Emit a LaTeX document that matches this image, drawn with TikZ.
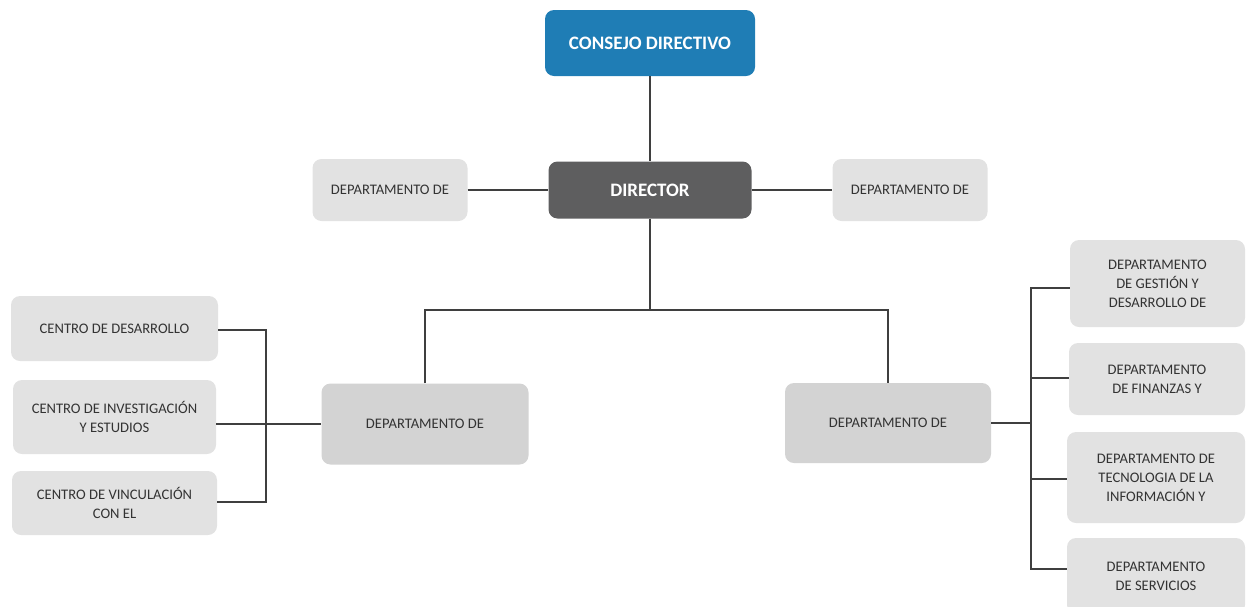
\documentclass[tikz,border=0pt]{standalone}
\usepackage{fontspec}
\setmainfont{Carlito}
\definecolor{cblue}{HTML}{1F7DB5}
\definecolor{cdark}{HTML}{5E5E5F}
\definecolor{clight}{HTML}{E2E2E2}
\definecolor{cmid}{HTML}{D3D3D3}
\definecolor{cline}{HTML}{3F3F3F}
\begin{document}
\begin{tikzpicture}[x=1pt,y=-1pt,
  box/.style={rounded corners=9pt, inner sep=0pt, align=center, font=\fontsize{14.6}{19}\selectfont, text=black!80},
  lbox/.style={box, fill=clight},
  mbox/.style={box, fill=cmid},
  conn/.style={draw=cline, line width=1.6pt}]
\useasboundingbox (0,0) rectangle (1246,606);
\node[box, fill=cblue, text=white, font=\bfseries\fontsize{19}{22}\selectfont, minimum width=210pt, minimum height=66pt] (cd) at (650,43) {CONSEJO DIRECTIVO};
\node[box, fill=cdark, text=white, font=\bfseries\fontsize{19}{22}\selectfont, minimum width=203pt, minimum height=57pt] (dir) at (650,190) {DIRECTOR};
\node[lbox, minimum width=155pt, minimum height=62pt] (dl) at (390,190) {DEPARTAMENTO DE};
\node[lbox, minimum width=155pt, minimum height=62pt] (dr) at (910,190) {DEPARTAMENTO DE};
\node[mbox, minimum width=207pt, minimum height=81pt] (ml) at (425,424) {DEPARTAMENTO DE};
\node[mbox, minimum width=206pt, minimum height=80pt] (mr) at (888,423) {DEPARTAMENTO DE};
\node[lbox, minimum width=207pt, minimum height=65pt] (l1) at (114.5,328.5) {CENTRO DE DESARROLLO};
\node[lbox, minimum width=203pt, minimum height=74pt] (l2) at (114.5,417) {CENTRO DE INVESTIGACIÓN\\Y ESTUDIOS};
\node[lbox, minimum width=205pt, minimum height=64pt] (l3) at (114.5,503) {CENTRO DE VINCULACIÓN\\CON EL};
\node[lbox, minimum width=175pt, minimum height=87pt] (r1) at (1157.5,283.5) {DEPARTAMENTO\\DE GESTIÓN Y\\DESARROLLO DE};
\node[lbox, minimum width=176pt, minimum height=72pt] (r2) at (1157,379) {DEPARTAMENTO\\DE FINANZAS Y};
\node[lbox, minimum width=178pt, minimum height=91pt] (r3) at (1156,477.5) {DEPARTAMENTO DE\\TECNOLOGIA DE LA\\INFORMACIÓN Y};
\node[lbox, minimum width=178pt, minimum height=76pt] (r4) at (1156,576) {DEPARTAMENTO\\DE SERVICIOS};
% connectors
\draw[conn] (cd.south) -- (dir.north);
\draw[conn] (dl.east) -- (dir.west);
\draw[conn] (dir.east) -- (dr.west);
\coordinate (hub) at (650,310);
\draw[conn] (dir.south) -- (hub);
\draw[conn] (ml.north) |- (hub) -| (mr.north);
\coordinate (lbus) at (266,424);
\draw[conn] (l1.east |- 0,330) -| (lbus);
\draw[conn] (l3.east |- 0,502) -| (lbus);
\draw[conn] (l2.east |- ml.west) -- (ml.west);
\coordinate (rbus) at (1031,423);
\draw[conn] (mr.east) -- (rbus);
\draw[conn] (r1.west |- 0,288) -| (rbus);
\draw[conn] (r4.west |- 0,569) -| (rbus);
\draw[conn] (r2.west |- 0,378) -- (1031,378);
\draw[conn] (r3.west |- 0,479) -- (1031,479);
\end{tikzpicture}
\end{document}
